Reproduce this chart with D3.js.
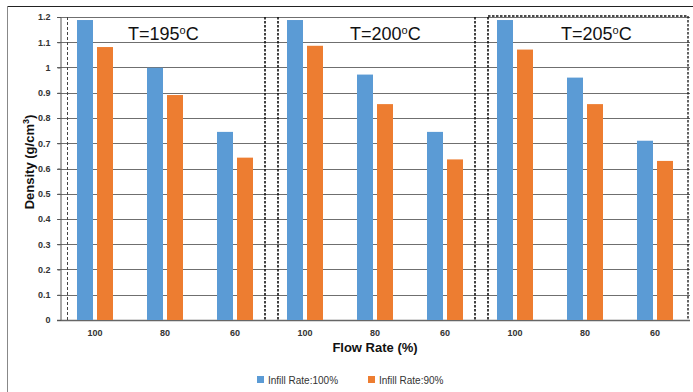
<!DOCTYPE html>
<html>
<head>
<meta charset="utf-8">
<script src="https://cdn.jsdelivr.net/npm/d3@7"></script>
<style>
  body { margin: 0; background: #fff; }
  svg { display: block; font-family: "Liberation Sans", Arial, sans-serif; }
</style>
</head>
<body>
<svg width="693" height="392"></svg>
<script>
  // values
  var flowRates = ["100", "80", "60"],
      temps = ["195", "200", "205"],
      infill100 = [1.188, 0.999, 0.745, 1.188, 0.972, 0.745, 1.188, 0.960, 0.710],
      infill90 = [1.081, 0.891, 0.643, 1.086, 0.855, 0.636, 1.071, 0.855, 0.630],
      seriesNames = ["Infill Rate:100%", "Infill Rate:90%"],
      yTicks = [0, 0.1, 0.2, 0.3, 0.4, 0.5, 0.6, 0.7, 0.8, 0.9, 1, 1.1, 1.2];

(function() {
  var colors = ["#5b9bd5", "#ed7d31"];

  var svg = d3.select("svg");

  var mLeft = 60, mRight = 690, mTop = 17, mBottom = 320;

  var rows = [];
  temps.forEach(function(t, ti) {
    flowRates.forEach(function(f, fi) {
      var i = ti * flowRates.length + fi;
      rows.push({ key: i, temp: t, flow: f, values: [infill100[i], infill90[i]] });
    });
  });

  var x = d3.scaleBand()
    .domain(rows.map(function(d) { return d.key; }))
    .range([mLeft, mRight]);

  var inner = d3.scaleBand()
    .domain([0, 1])
    .range([17, 53])
    .paddingInner(0.2);

  var y = d3.scaleLinear()
    .domain([0, 1.2])
    .range([mBottom, mTop]);

  // outer frame of the picture
  svg.append("line")
    .attr("x1", 7).attr("x2", 693).attr("y1", 6.5).attr("y2", 6.5)
    .attr("stroke", "#222").attr("stroke-width", 1);
  svg.append("line")
    .attr("x1", 7.5).attr("x2", 7.5).attr("y1", 6).attr("y2", 392)
    .attr("stroke", "#888").attr("stroke-width", 1);

  // gridlines
  svg.append("g")
    .selectAll("line")
    .data(yTicks)
    .enter().append("line")
      .attr("x1", mLeft - 3)
      .attr("x2", mRight)
      .attr("y1", function(d) { return Math.round(y(d)) + 0.5; })
      .attr("y2", function(d) { return Math.round(y(d)) + 0.5; })
      .attr("stroke", function(d) { return d === 0 ? "#666" : "#6f6f6f"; })
      .attr("stroke-width", function(d) { return d === 0 ? 1.5 : 1; });

  // y axis
  var yAxis = svg.append("g")
    .attr("transform", "translate(" + (mLeft + 0.5) + ",0)")
    .call(d3.axisLeft(y).tickValues(yTicks).tickSize(3).tickFormat(d3.format("~g")));
  yAxis.select(".domain").attr("stroke", "#555");
  yAxis.selectAll(".tick line").attr("stroke", "#555");
  yAxis.selectAll("text")
    .attr("x", -10)
    .style("font-size", "9px")
    .style("font-weight", "bold")
    .style("fill", "#333");

  // bars
  var groups = svg.append("g")
    .selectAll("g")
    .data(rows)
    .enter().append("g")
      .attr("transform", function(d) { return "translate(" + x(d.key) + ",0)"; });

  groups.selectAll("rect")
    .data(function(d) { return d.values; })
    .enter().append("rect")
      .attr("x", function(d, i) { return inner(i); })
      .attr("width", inner.bandwidth())
      .attr("y", function(d) { return y(d); })
      .attr("height", function(d) { return y(0) - y(d); })
      .attr("fill", function(d, i) { return colors[i]; });

  // x tick labels
  svg.append("g")
    .selectAll("text")
    .data(rows)
    .enter().append("text")
      .attr("x", function(d) { return x(d.key) + x.bandwidth() / 2; })
      .attr("y", 336)
      .attr("text-anchor", "middle")
      .style("font-size", "9px")
      .style("font-weight", "bold")
      .style("fill", "#333")
      .text(function(d) { return d.flow; });

  // dashed separators between temperature groups
  var step = x.step() * flowRates.length;
  var dashes = svg.append("g").attr("fill", "none");
  dashes.append("line")
    .attr("x1", mLeft + 7.5).attr("x2", mLeft + 7.5).attr("y1", mTop).attr("y2", mBottom)
    .attr("stroke", "#444").attr("stroke-width", 1).attr("stroke-dasharray", "3,2");
  [1, 2].forEach(function(g) {
    var bx = mLeft + g * step;
    [bx - 5, bx + 8].forEach(function(lx) {
      dashes.append("line")
        .attr("x1", lx).attr("x2", lx).attr("y1", mTop).attr("y2", mBottom)
        .attr("stroke", "#111").attr("stroke-width", 1.6).attr("stroke-dasharray", "2.5,1.5");
    });
  });
  // box round the last group
  dashes.append("path")
    .attr("d", "M" + (mLeft + 2 * step + 8) + "," + (mTop - 1) +
               "H" + (mRight - 2) + "V" + mBottom)
    .attr("stroke", "#111").attr("stroke-width", 1.3).attr("stroke-dasharray", "2.5,1.5");

  // temperature labels
  var labelOffsets = [68, 80, 81];
  temps.forEach(function(t, i) {
    var txt = svg.append("text")
      .attr("x", mLeft + i * step + labelOffsets[i])
      .attr("y", 40)
      .style("font-size", "18px")
      .style("fill", "#111");
    txt.append("tspan").text("T=" + t);
    txt.append("tspan").attr("dy", -6).style("font-size", "11px").text("o");
    txt.append("tspan").attr("dy", 6).text("C");
  });

  // axis titles
  svg.append("text")
    .attr("x", (mLeft + mRight) / 2)
    .attr("y", 352)
    .attr("text-anchor", "middle")
    .style("font-size", "13px")
    .style("font-weight", "bold")
    .style("fill", "#111")
    .text("Flow Rate (%)");

  var yt = svg.append("text")
    .attr("transform", "translate(34,162) rotate(-90)")
    .attr("text-anchor", "middle")
    .style("font-size", "13px")
    .style("font-weight", "bold")
    .style("fill", "#111");
  yt.append("tspan").text("Density (g/cm");
  yt.append("tspan").attr("dy", -5).style("font-size", "9px").text("3");
  yt.append("tspan").attr("dy", 5).text(")");

  // legend
  var legend = svg.append("g")
    .selectAll("g")
    .data(seriesNames)
    .enter().append("g")
      .attr("transform", function(d, i) { return "translate(" + (257 + i * 111) + ",376)"; });
  legend.append("rect")
    .attr("width", 7).attr("height", 7)
    .attr("fill", function(d, i) { return colors[i]; });
  legend.append("text")
    .attr("x", 11)
    .attr("y", 7.5)
    .style("font-size", "10px")
    .style("fill", "#333")
    .text(function(d) { return d; });
})();
</script>
</body>
</html>
